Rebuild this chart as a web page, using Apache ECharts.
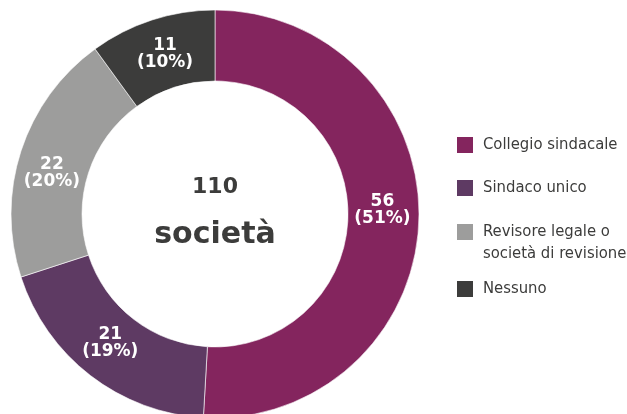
<!DOCTYPE html>
<html>
<head>
<meta charset="utf-8">
<script src="https://cdn.jsdelivr.net/npm/echarts@6/dist/echarts.min.js"></script>
<style>
  html, body { margin: 0; padding: 0; background: #fff; }
  #chart { width: 627px; height: 414px; }
</style>
</head>
<body>
<div id="chart"></div>
<script>
// dati del grafico
var categorie = ['Collegio sindacale', 'Sindaco unico', 'Revisore legale o società di revisione', 'Nessuno'];
var valori = [56, 21, 22, 11];
var colori = ['#84255e', '#5e3a63', '#9d9d9c', '#3c3c3b'];
var totale = '110';
var etichettaTotale = 'società';

var myChart = echarts.init(document.getElementById('chart'));

var fontLegenda = "'Liberation Sans Narrow', 'DejaVu Sans Condensed', sans-serif";
var fontNumeri = "'DejaVu Sans', sans-serif";
var topLegenda = [134, 177, 199, 278];
// piccoli spostamenti delle etichette come nell'originale
var spostamentoEtichette = [[-4, -9], [0, -7], [0, 12], [3, 3]];

option = {
  animation: false,
  legend: categorie.map(function (nome, i) {
    return {
      data: [nome],
      orient: 'vertical',
      left: 455,
      top: topLegenda[i],
      padding: 0,
      itemWidth: 18,
      itemHeight: 18,
      icon: 'rect',
      selectedMode: false,
      formatter: function (n) {
        // a capo per la voce lunga, con riga vuota sopra per allineare il quadratino
        if (n.indexOf('Revisore') === 0) {
          return '\u00a0\nRevisore legale o\nsocietà di revisione';
        }
        return n;
      },
      textStyle: {
        fontFamily: fontLegenda,
        fontSize: 16.5,
        lineHeight: 22,
        color: '#3c3c3b',
        padding: [0, 0, 0, 4]
      }
    };
  }),
  graphic: [
    {
      type: 'text',
      x: 215,
      y: 211,
      style: {
        text: '{n|' + totale + '}\n{s|' + etichettaTotale + '}',
        align: 'center',
        verticalAlign: 'middle',
        fill: '#3c3c3b',
        rich: {
          n: { fontFamily: fontNumeri, fontWeight: 'bold', fontSize: 22, lineHeight: 48, fill: '#3c3c3b' },
          s: { fontFamily: fontNumeri, fontWeight: 'bold', fontSize: 30, lineHeight: 48, fill: '#3c3c3b' }
        }
      }
    }
  ],
  series: [
    {
      type: 'pie',
      center: [215, 214],
      radius: [133, 204],
      startAngle: 90,
      clockwise: true,
      silent: true,
      avoidLabelOverlap: false,
      percentPrecision: 0,
      itemStyle: {
        borderColor: '#ffffff',
        borderWidth: 0.6
      },
      label: {
        show: true,
        position: 'inside',
        formatter: '{c}\n({d}%)',
        color: '#ffffff',
        fontFamily: fontNumeri,
        fontWeight: 'bold',
        fontSize: 17,
        lineHeight: 17
      },
      labelLine: { show: false },
      data: categorie.map(function (nome, i) {
        return {
          name: nome,
          value: valori[i],
          itemStyle: { color: colori[i] },
          label: { offset: spostamentoEtichette[i] }
        };
      })
    }
  ]
};

myChart.setOption(option);
</script>
</body>
</html>
